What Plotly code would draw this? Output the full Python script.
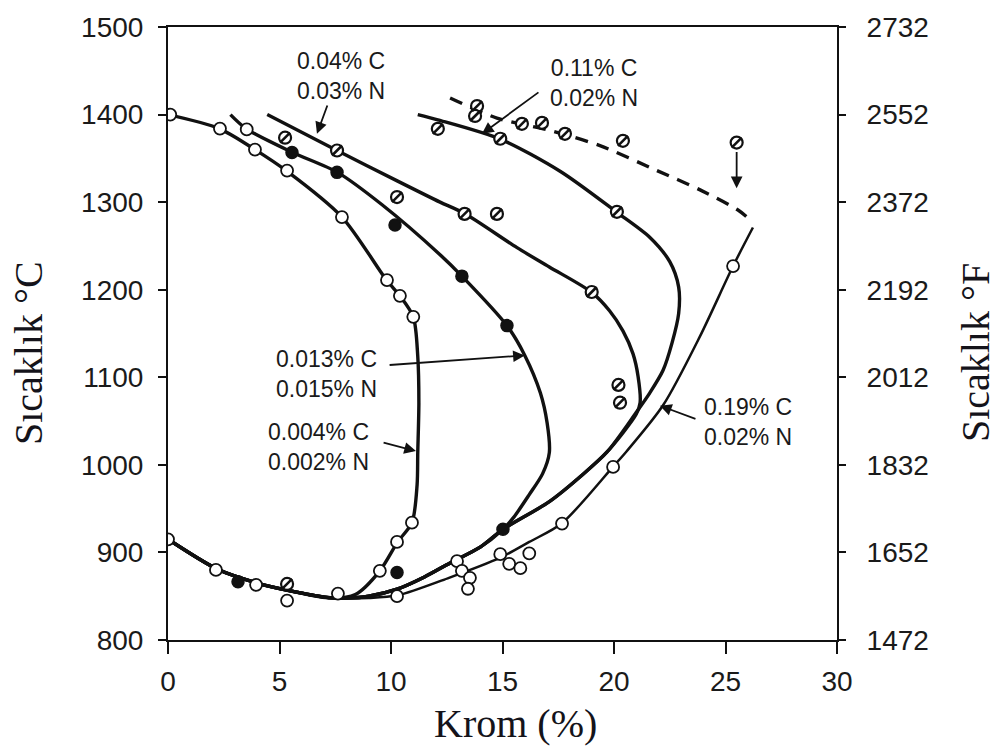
import plotly.graph_objects as go

# ---------------- data (Cr %, temperature °C) ----------------
# shared low-temperature branch (from ~8 % Cr back to 0 % Cr)
bottom_x = [8.0, 7.0, 5.5, 4.0, 2.2, 0.0]
bottom_y = [848, 849, 856, 865, 881, 915]

# 0.004% C, 0.002% N
a_x = [0.0, 2.3, 3.9, 5.3, 7.8, 9.8, 10.4, 11.0, 11.2, 11.25, 11.2, 11.17, 10.94, 10.3, 9.5, 8.4, 7.3, 5.5, 4.0, 2.2, 0.0]
a_y = [1400, 1384, 1360, 1336, 1283, 1211, 1193, 1169, 1124, 1071, 1014, 977, 934, 912, 879, 852, 848, 856, 865, 881, 915]

# 0.013% C, 0.015% N
b_x = [2.8, 3.5, 5.56, 7.6, 9.6, 12.2, 13.2, 15.2, 16.0, 16.7, 17.0, 17.1, 16.8, 16.2, 15.5, 15.0, 14.0, 12.65, 11.5, 10.27, 9.0]
b_y = [1400, 1384, 1357, 1334, 1297, 1240, 1215, 1159, 1125, 1082, 1048, 1014, 990, 966, 940, 926, 906, 888, 872, 858, 850]

# 0.04% C, 0.03% N
c_x = [4.45, 7.58, 10.3, 12.2, 13.3, 15.65, 17.1, 19.0, 19.8, 20.4, 20.85, 21.08, 21.17, 21.0, 19.7, 18.6, 17.1, 15.0, 14.0, 12.65, 11.5, 10.27, 9.0]
c_y = [1400, 1359, 1324, 1300, 1287, 1248, 1226, 1197, 1176, 1153, 1127, 1101, 1071, 1058, 1015, 989, 958, 926, 906, 888, 872, 858, 850]

# 0.11% C, 0.02% N
d_x = [11.2, 12.1, 14.9, 17.6, 20.1, 21.6, 22.5, 22.9, 22.9, 22.6, 22.2, 21.6, 21.0, 19.7, 18.6, 17.1, 15.0, 14.0, 12.65, 11.5, 10.27, 9.0]
d_y = [1400, 1394, 1372, 1335, 1289, 1260, 1232, 1203, 1173, 1139, 1108, 1082, 1060, 1015, 989, 958, 926, 906, 888, 872, 858, 850]

# 0.19% C, 0.02% N (dashed upper part + solid part)
e_dash_x = [12.65, 14.75, 17.27, 19.37, 21.93, 23.86, 25.56, 26.1]
e_dash_y = [1419, 1396, 1381, 1364.5, 1336, 1314, 1291, 1280]
e_x = [26.23, 25.34, 23.86, 22.2, 20.55, 19.96, 17.65, 16.2, 14.9, 12.6, 10.3, 9.0]
e_y = [1271, 1227, 1147, 1068, 1015, 998, 933, 912, 894, 871, 851, 848]

# measured points
open_x = [0.1, 2.33, 3.53, 3.9, 5.34, 7.8, 9.82, 10.4, 11.0, 10.94, 10.27, 9.5, 7.62, 5.34, 3.95, 2.15, 0.0,
          19.96, 17.67, 12.96, 13.18, 13.54, 13.45, 14.9, 16.2, 15.3, 15.8, 10.27, 25.34]
open_y = [1400, 1384, 1383, 1360, 1336, 1283, 1211, 1193, 1169, 934, 912, 879, 853, 845, 863, 880, 915,
          997.6, 933, 890, 879, 871, 858.5, 898, 899, 887, 882, 850, 1227]
filled_x = [3.14, 5.56, 7.58, 10.18, 13.18, 15.2, 15.02, 10.27]
filled_y = [866.6, 1356.6, 1334, 1274, 1215.5, 1159, 926.5, 877]
half_x = [5.25, 7.58, 10.27, 13.3, 14.75, 19.0, 20.2, 20.27, 12.1, 13.86, 13.77, 14.9, 15.87, 16.77, 17.8, 20.4, 20.13, 25.5, 5.34]
half_y = [1373.6, 1359, 1305.8, 1286.6, 1286.6, 1197.4, 1091.3, 1071, 1383.7, 1409.7, 1398.4, 1372.4, 1389.4, 1390.5, 1378, 1370, 1289, 1368, 864]

x_ticks = [0, 5, 10, 15, 20, 25, 30]
c_ticks = [800, 900, 1000, 1100, 1200, 1300, 1400, 1500]
f_ticks = [round(t * 1.8 + 32) for t in c_ticks]  # 1472 ... 2732

labels = [
    ("0.04% C<br>0.03% N", 7.76, 1443.5),
    ("0.11% C<br>0.02% N", 19.1, 1435.6),
    ("0.013% C<br>0.015% N", 7.09, 1103.7),
    ("0.004% C<br>0.002% N", 6.73, 1020.0),
    ("0.19% C<br>0.02% N", 26.0, 1048.4),
]
# arrows: (head_x, head_y, tail_x, tail_y)
arrows = [
    (6.68, 1378, 7.17, 1412),
    (14.08, 1378, 16.68, 1426.6),
    (16.0, 1125, 9.87, 1113.9),
    (11.12, 1015.7, 9.6, 1025.8),
    (22.06, 1067.6, 23.72, 1051.8),
    (25.5, 1316, 25.5, 1359),
]

# ---------------- figure ----------------
INK = "#111111"
TICKFONT = dict(family="Liberation Sans, Arial, sans-serif", size=28, color="#1a1a1a")
TITLEFONT = dict(family="Liberation Serif, Times New Roman, serif", size=40, color="#14131a")
NOTEFONT = dict(family="Liberation Sans, Arial, sans-serif", size=23, color="#1a1a1a")

fig = go.Figure()

def curve(xs, ys, width=3.4, dash="solid"):
    fig.add_trace(go.Scatter(x=xs, y=ys, mode="lines",
                             line=dict(color=INK, width=width, dash=dash, shape="spline", smoothing=0.8),
                             hoverinfo="skip", showlegend=False))

curve(a_x, a_y)
curve(b_x + bottom_x, b_y + bottom_y)
curve(c_x + bottom_x, c_y + bottom_y)
curve(d_x + bottom_x, d_y + bottom_y)
curve(e_x + bottom_x, e_y + bottom_y, width=2.5)
curve(e_dash_x, e_dash_y, width=3.4, dash="13px,9px")

MS = 12
fig.add_trace(go.Scatter(x=open_x, y=open_y, mode="markers",
                         marker=dict(symbol="circle", size=MS, color="white", line=dict(color=INK, width=1.8)),
                         hoverinfo="skip", showlegend=False))
fig.add_trace(go.Scatter(x=half_x, y=half_y, mode="markers",
                         marker=dict(symbol="circle", size=MS, color="white", line=dict(color=INK, width=2.2)),
                         hoverinfo="skip", showlegend=False))
fig.add_trace(go.Scatter(x=half_x, y=half_y, mode="markers",
                         marker=dict(symbol="line-ne", size=MS - 2, line=dict(color=INK, width=2.6)),
                         hoverinfo="skip", showlegend=False))
fig.add_trace(go.Scatter(x=filled_x, y=filled_y, mode="markers",
                         marker=dict(symbol="circle", size=MS, color=INK, line=dict(color=INK, width=1.5)),
                         hoverinfo="skip", showlegend=False))
# helper so the right axis is drawn
fig.add_trace(go.Scatter(x=[x_ticks[0]], y=[f_ticks[0]], yaxis="y2", mode="markers",
                         marker=dict(opacity=0), hoverinfo="skip", showlegend=False))

for text, x, y in labels:
    fig.add_annotation(x=x, y=y, xref="x", yref="y", text=text, showarrow=False,
                       font=NOTEFONT, align="center", xanchor="center", yanchor="middle")
for hx, hy, tx, ty in arrows:
    fig.add_annotation(x=hx, y=hy, ax=tx, ay=ty, xref="x", yref="y", axref="x", ayref="y",
                       text="", showarrow=True, arrowhead=2, arrowsize=1.3, arrowwidth=1.8,
                       arrowcolor=INK, standoff=0, startstandoff=0)

# axis titles
fig.add_annotation(xref="paper", yref="paper", x=0, y=0.468, xshift=-140, text="Sıcaklık °C",
                   textangle=-90, showarrow=False, font=TITLEFONT, xanchor="center", yanchor="middle")
fig.add_annotation(xref="paper", yref="paper", x=1, y=0.468, xshift=138, text="Sıcaklık °F",
                   textangle=-90, showarrow=False, font=TITLEFONT, xanchor="center", yanchor="middle")
fig.add_annotation(xref="paper", yref="paper", x=0.52, y=0, yshift=-83, text="Krom (%)",
                   showarrow=False, font=TITLEFONT, xanchor="center", yanchor="middle")

fig.update_layout(
    width=997, height=749,
    margin=dict(l=168, r=160, t=20, b=109),
    paper_bgcolor="white", plot_bgcolor="white",
    showlegend=False,
    xaxis=dict(range=[0, 30], tickvals=x_ticks, ticks="outside", ticklen=12, tickwidth=2,
               tickcolor=INK, showline=True, linewidth=2, linecolor=INK, mirror=True,
               showgrid=False, zeroline=False, tickfont=TICKFONT, ticklabelstandoff=3),
    yaxis=dict(range=[800, 1500], tickvals=c_ticks, ticks="outside", ticklen=8, tickwidth=2,
               tickcolor=INK, showline=True, linewidth=2, linecolor=INK, mirror=True,
               showgrid=False, zeroline=False, tickfont=TICKFONT, ticklabelstandoff=9),
    yaxis2=dict(range=[f_ticks[0], f_ticks[-1]], tickvals=f_ticks, overlaying="y", side="right",
                ticks="outside", ticklen=8, tickwidth=2, tickcolor=INK, showline=False,
                showgrid=False, zeroline=False, tickfont=TICKFONT, ticklabelstandoff=15),
)

fig.write_html("out.html")
